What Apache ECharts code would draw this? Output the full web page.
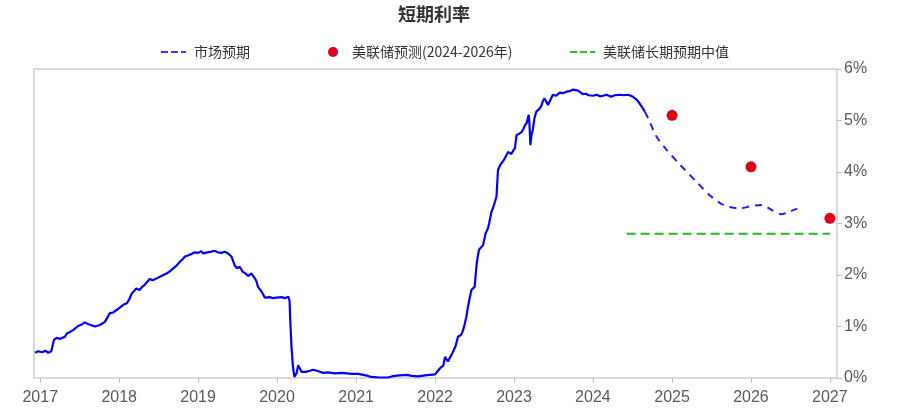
<!DOCTYPE html>
<html>
<head>
<meta charset="utf-8">
<script src="https://cdn.jsdelivr.net/npm/echarts@6/dist/echarts.min.js"></script>
<style>html,body{margin:0;padding:0;background:#fff;}#c{width:899px;height:417px;}</style>
</head>
<body>
<div id="c"></div>
<script>
const titleText = '短期利率';
const legendNames = ['市场预期', '美联储预测(2024-2026年)', '美联储长期预期中值'];
const yTicks = [0, 1, 2, 3, 4, 5, 6];

// historical market rate (solid)
const histDates = ['2016-12-08','2016-12-22','2017-01-10','2017-01-24','2017-02-07','2017-02-21','2017-03-01','2017-03-05','2017-03-18','2017-04-02','2017-04-25','2017-05-05','2017-05-17','2017-06-02','2017-06-25','2017-07-12','2017-07-26','2017-08-09','2017-08-18','2017-09-11','2017-10-04','2017-10-27','2017-11-19','2017-12-03','2017-12-20','2018-01-05','2018-01-20','2018-02-05','2018-02-16','2018-02-28','2018-03-09','2018-03-21','2018-04-06','2018-04-17','2018-04-29','2018-05-13','2018-05-22','2018-06-05','2018-06-22','2018-07-15','2018-08-08','2018-08-23','2018-09-08','2018-09-23','2018-10-09','2018-10-23','2018-11-01','2018-11-15','2018-12-02','2018-12-17','2019-01-02','2019-01-15','2019-01-25','2019-02-12','2019-02-26','2019-03-18','2019-04-02','2019-04-19','2019-05-04','2019-05-19','2019-06-04','2019-06-12','2019-06-19','2019-06-30','2019-07-12','2019-07-27','2019-08-09','2019-08-20','2019-08-28','2019-09-05','2019-09-12','2019-09-20','2019-09-28','2019-10-05','2019-10-21','2019-11-06','2019-11-29','2019-12-14','2019-12-30','2020-01-22','2020-02-07','2020-02-22','2020-02-28','2020-03-02','2020-03-08','2020-03-14','2020-03-21','2020-04-01','2020-04-08','2020-04-16','2020-04-23','2020-05-01','2020-05-13','2020-06-01','2020-06-16','2020-07-03','2020-07-17','2020-08-02','2020-08-23','2020-09-25','2020-10-27','2020-12-11','2021-01-10','2021-02-03','2021-02-25','2021-03-12','2021-04-20','2021-05-28','2021-06-15','2021-06-29','2021-07-21','2021-08-22','2021-09-16','2021-10-15','2021-11-15','2021-12-08','2022-01-01','2022-01-10','2022-01-24','2022-02-08','2022-02-16','2022-02-23','2022-03-01','2022-03-14','2022-03-24','2022-04-06','2022-04-17','2022-05-02','2022-05-10','2022-05-17','2022-05-26','2022-06-02','2022-06-10','2022-06-18','2022-06-26','2022-07-03','2022-07-11','2022-07-17','2022-07-23','2022-08-01','2022-08-11','2022-08-23','2022-09-02','2022-09-08','2022-09-19','2022-09-26','2022-10-04','2022-10-12','2022-10-19','2022-10-30','2022-11-10','2022-11-20','2022-12-05','2022-12-12','2022-12-20','2022-12-29','2023-01-05','2023-01-13','2023-01-24','2023-02-06','2023-02-14','2023-02-21','2023-03-01','2023-03-10','2023-03-13','2023-03-18','2023-03-23','2023-03-29','2023-04-06','2023-04-14','2023-04-21','2023-04-29','2023-05-07','2023-05-14','2023-05-22','2023-05-30','2023-06-07','2023-06-15','2023-06-30','2023-07-14','2023-08-01','2023-08-14','2023-09-01','2023-09-16','2023-10-01','2023-10-13','2023-10-24','2023-11-06','2023-11-16','2023-11-29','2023-12-12','2024-01-02','2024-01-19','2024-02-02','2024-02-17','2024-03-04','2024-03-26','2024-04-11','2024-05-04','2024-05-22','2024-06-11','2024-06-24','2024-07-04','2024-07-17','2024-07-28','2024-08-09','2024-08-20','2024-08-28'];
const histRates = [0.49,0.52,0.50,0.53,0.49,0.52,0.51,0.74,0.78,0.76,0.80,0.87,0.89,0.93,1.01,1.04,1.08,1.05,1.03,1.00,1.03,1.09,1.26,1.27,1.32,1.37,1.42,1.45,1.52,1.64,1.68,1.74,1.71,1.77,1.81,1.88,1.92,1.90,1.93,1.98,2.03,2.07,2.13,2.18,2.26,2.31,2.36,2.38,2.41,2.44,2.43,2.46,2.42,2.44,2.45,2.47,2.44,2.43,2.45,2.42,2.36,2.27,2.19,2.13,2.16,2.06,2.03,1.98,2.01,2.03,1.98,1.94,1.88,1.77,1.68,1.56,1.57,1.55,1.56,1.57,1.55,1.58,1.50,1.13,0.60,0.25,0.02,0.10,0.25,0.22,0.12,0.10,0.12,0.14,0.16,0.14,0.12,0.10,0.11,0.09,0.10,0.08,0.08,0.06,0.04,0.02,0.01,0.01,0.03,0.04,0.05,0.06,0.04,0.03,0.05,0.06,0.07,0.09,0.19,0.24,0.41,0.36,0.32,0.42,0.50,0.62,0.80,0.84,0.92,1.03,1.20,1.38,1.55,1.71,1.68,1.77,2.16,2.35,2.49,2.52,2.58,2.81,2.90,3.00,3.23,3.30,3.33,3.52,4.04,4.14,4.20,4.27,4.39,4.36,4.35,4.42,4.46,4.72,4.74,4.78,4.84,4.91,4.95,5.11,4.98,4.52,4.72,4.82,5.05,5.17,5.14,5.23,5.28,5.37,5.43,5.46,5.30,5.33,5.50,5.48,5.54,5.53,5.56,5.57,5.60,5.59,5.58,5.54,5.51,5.52,5.49,5.48,5.50,5.47,5.48,5.50,5.46,5.49,5.50,5.49,5.50,5.48,5.46,5.42,5.37,5.30,5.23,5.17];

// market expectation (dashed)
const fcDates = ['2024-08-28','2024-09-13','2024-10-21','2024-12-07','2025-02-07','2025-04-24','2025-06-24','2025-08-17','2025-09-25','2025-11-10','2025-12-26','2026-02-19','2026-04-12','2026-05-20','2026-06-28','2026-08-03'];
const fcRates = [5.17,5.04,4.69,4.43,4.14,3.81,3.55,3.38,3.32,3.29,3.33,3.36,3.25,3.18,3.23,3.29];

// Fed projections (dots)
const fedDates = ['2025-01-01','2026-01-01','2027-01-01'];
const fedRates = [5.1, 4.1, 3.1];

// Fed long-run median (dashed green)
const lrDates = ['2024-06-05','2027-01-01'];
const lrRates = [2.8, 2.8];

const zip = (a, b) => a.map((d, i) => [d, b[i]]);
const chart = echarts.init(document.getElementById('c'), null, {renderer: 'canvas'});
const fontFam = '"Noto Sans CJK SC","Noto Sans",sans-serif';
const dashIcon = 'path://M0,0H7V2H0Z M10,0H17V2H10Z M20,0H25V2H20Z';
const legendText = {fontSize: 14, color: '#333', fontFamily: fontFam, padding: [0, 0, 0, 3]};
const legendBase = {top: 40, itemHeight: 2, textStyle: legendText, itemGap: 5};
chart.setOption({
  animation: false,
  title: {text: titleText, left: 393, top: 0, textStyle: {fontSize: 18, fontWeight: 'bold', color: '#333', fontFamily: fontFam}},
  legend: [
    Object.assign({}, legendBase, {left: 156, itemWidth: 25, data: [{name: legendNames[0], icon: dashIcon}]}),
    Object.assign({}, legendBase, {left: 323, itemWidth: 22, itemHeight: 10, data: [{name: legendNames[1], icon: 'circle'}]}),
    Object.assign({}, legendBase, {left: 565, itemWidth: 25, data: [{name: legendNames[2], icon: dashIcon}]})
  ],
  grid: {left: 34, right: 62, top: 69, bottom: 39, show: true, borderColor: '#d9d9d9', borderWidth: 2},
  xAxis: {
    type: 'time', min: '2016-12-03', max: '2027-02-03',
    minInterval: 365 * 86400000, maxInterval: 366 * 86400000,
    axisLine: {lineStyle: {color: '#d9d9d9', width: 2}},
    axisTick: {show: true, length: 5, lineStyle: {color: '#bfbfbf'}},
    splitLine: {show: false},
    axisLabel: {fontSize: 16, color: '#595959', margin: 12, showMinLabel: false, showMaxLabel: false,
      formatter: v => String(new Date(v).getFullYear())}
  },
  yAxis: {
    type: 'value', position: 'right', min: yTicks[0], max: yTicks[yTicks.length - 1], interval: 1,
    axisLine: {show: true, lineStyle: {color: '#d9d9d9', width: 2}},
    axisTick: {show: true, length: 5, lineStyle: {color: '#bfbfbf'}},
    splitLine: {show: false},
    axisLabel: {fontSize: 16, color: '#595959', margin: 7, formatter: '{value}%'}
  },
  series: [
    {name: legendNames[0], type: 'line', data: zip(fcDates, fcRates), symbol: 'none', smooth: 0.3,
      lineStyle: {color: '#1f1fff', width: 2, type: [7, 6]}, itemStyle: {color: '#3a3aff'}},
    {name: '市场利率', type: 'line', data: zip(histDates, histRates), symbol: 'none',
      lineStyle: {color: '#0000ff', width: 2.2}, itemStyle: {color: '#0000ff'}},
    {name: legendNames[1], type: 'scatter', data: zip(fedDates, fedRates), symbolSize: 11,
      itemStyle: {color: '#dd0018', opacity: 1}},
    {name: legendNames[2], type: 'line', data: zip(lrDates, lrRates), symbol: 'none',
      lineStyle: {color: '#22b822', width: 2, type: [9, 5]}, itemStyle: {color: '#2bc02b'}}
  ]
});
</script>
</body>
</html>
